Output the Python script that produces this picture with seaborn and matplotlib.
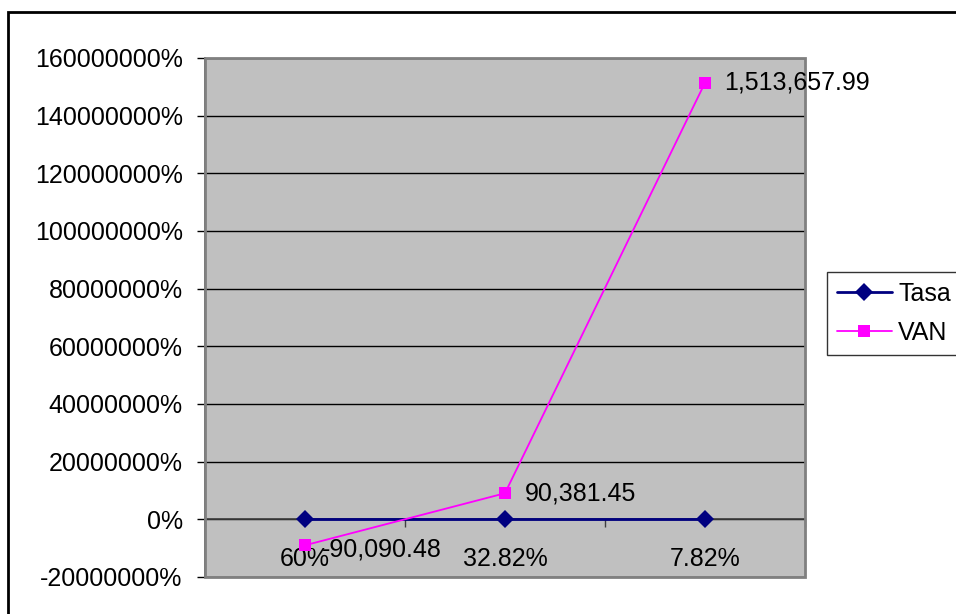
import pandas as pd
import numpy as np
import matplotlib
matplotlib.use("Agg")
import matplotlib.pyplot as plt
import matplotlib.patches as mpatches
from matplotlib.lines import Line2D
from matplotlib.ticker import FuncFormatter, FixedLocator
import seaborn as sns

# data
categorias = ["60%", "32.82%", "7.82%"]
tasa = [0.60, 0.3282, 0.0782]
van = [-90090.48, 90381.45, 1513657.99]

sns.set_style("white")
plt.rcParams["font.family"] = ["Liberation Sans", "DejaVu Sans"]
plt.rcParams["font.size"] = 18
plt.rcParams["text.color"] = "black"
plt.rcParams["xtick.color"] = "black"
plt.rcParams["ytick.color"] = "black"
plt.rcParams["xtick.labelcolor"] = "black"
plt.rcParams["ytick.labelcolor"] = "black"

df = pd.DataFrame({
    "categoria": categorias * 2,
    "valor": tasa + van,
    "serie": ["Tasa"] * 3 + ["VAN"] * 3,
})

fig = plt.figure(figsize=(9.56, 6.14), dpi=100)
ax = fig.add_axes([0.2144, 0.0603, 0.6276, 0.8453])
ax.set_facecolor("#C0C0C0")

colores = {"Tasa": "#000080", "VAN": "#FF00FF"}

# horizontal gridlines
ax.set_ylim(-200000, 1600000)
ax.set_yticks(np.arange(-200000, 1600001, 200000))
ax.yaxis.grid(True, color="black", linewidth=1)
ax.set_axisbelow(True)

sns.lineplot(data=df[df.serie == "VAN"], x="categoria", y="valor", color=colores["VAN"],
             marker="s", markersize=9, markeredgewidth=0, linewidth=1.3, ax=ax, zorder=4)
sns.lineplot(data=df[df.serie == "Tasa"], x="categoria", y="valor", color=colores["Tasa"],
             marker="D", markersize=9, markeredgewidth=0, linewidth=2, ax=ax, zorder=3)

ax.set_xlim(-0.5, 2.5)
ax.set_xlabel("")
ax.set_ylabel("")

ax.yaxis.set_major_formatter(FuncFormatter(lambda v, p: f"{v * 100:.0f}%"))
ax.tick_params(axis="y", direction="out", length=6, width=1, color="black",
               pad=10, labelsize=18, labelcolor="black", left=True)

# category axis crosses at zero
ax.spines["bottom"].set_position(("data", 0))
ax.spines["bottom"].set_color("#404040")
ax.spines["bottom"].set_linewidth(1.2)
ax.spines["left"].set_color("#404040")
ax.spines["left"].set_linewidth(1.2)
ax.spines["top"].set_visible(False)
ax.spines["right"].set_visible(False)
ax.xaxis.set_minor_locator(FixedLocator([-0.5, 0.5, 1.5, 2.5]))
ax.tick_params(axis="x", which="major", length=0, pad=20, labelsize=18, labelcolor="black")
ax.tick_params(axis="x", which="minor", direction="out", length=6, width=1,
               color="#404040", bottom=True)

# plot area frame
marco = mpatches.Rectangle((0, 0), 1, 1, transform=ax.transAxes, fill=False,
                           edgecolor="#808080", linewidth=2, zorder=5, clip_on=False)
ax.add_patch(marco)

# data labels for VAN
offsets = [(12, -3), (14, 0), (14, 0)]
for i, v in enumerate(van):
    ax.annotate(f"{v:,.2f}", xy=(i, v), xytext=offsets[i], textcoords="offset points",
                ha="left", va="center", fontsize=18, color="black", zorder=6,
                annotation_clip=False)

handles = [
    Line2D([], [], color=colores["Tasa"], marker="D", markersize=9, linewidth=2, markeredgewidth=0),
    Line2D([], [], color=colores["VAN"], marker="s", markersize=9, linewidth=1.3, markeredgewidth=0),
]
leg = fig.legend(handles, ["Tasa", "VAN"], loc="upper left", bbox_to_anchor=(0.865, 0.557),
                 frameon=True, fancybox=False, edgecolor="black", fontsize=18,
                 handlelength=2.2, handletextpad=0.25, labelspacing=0.6, borderpad=0.4,
                 borderaxespad=0)
leg.get_frame().set_linewidth(1)
for t in leg.get_texts():
    t.set_color("black")

# outer chart border
borde = mpatches.Rectangle((8 / 956, -0.1), 1.2, 1.1 - 12 / 614, transform=fig.transFigure,
                           fill=False, edgecolor="black", linewidth=2)
fig.patches.append(borde)

fig.savefig("out.png", dpi=100, facecolor="white")
